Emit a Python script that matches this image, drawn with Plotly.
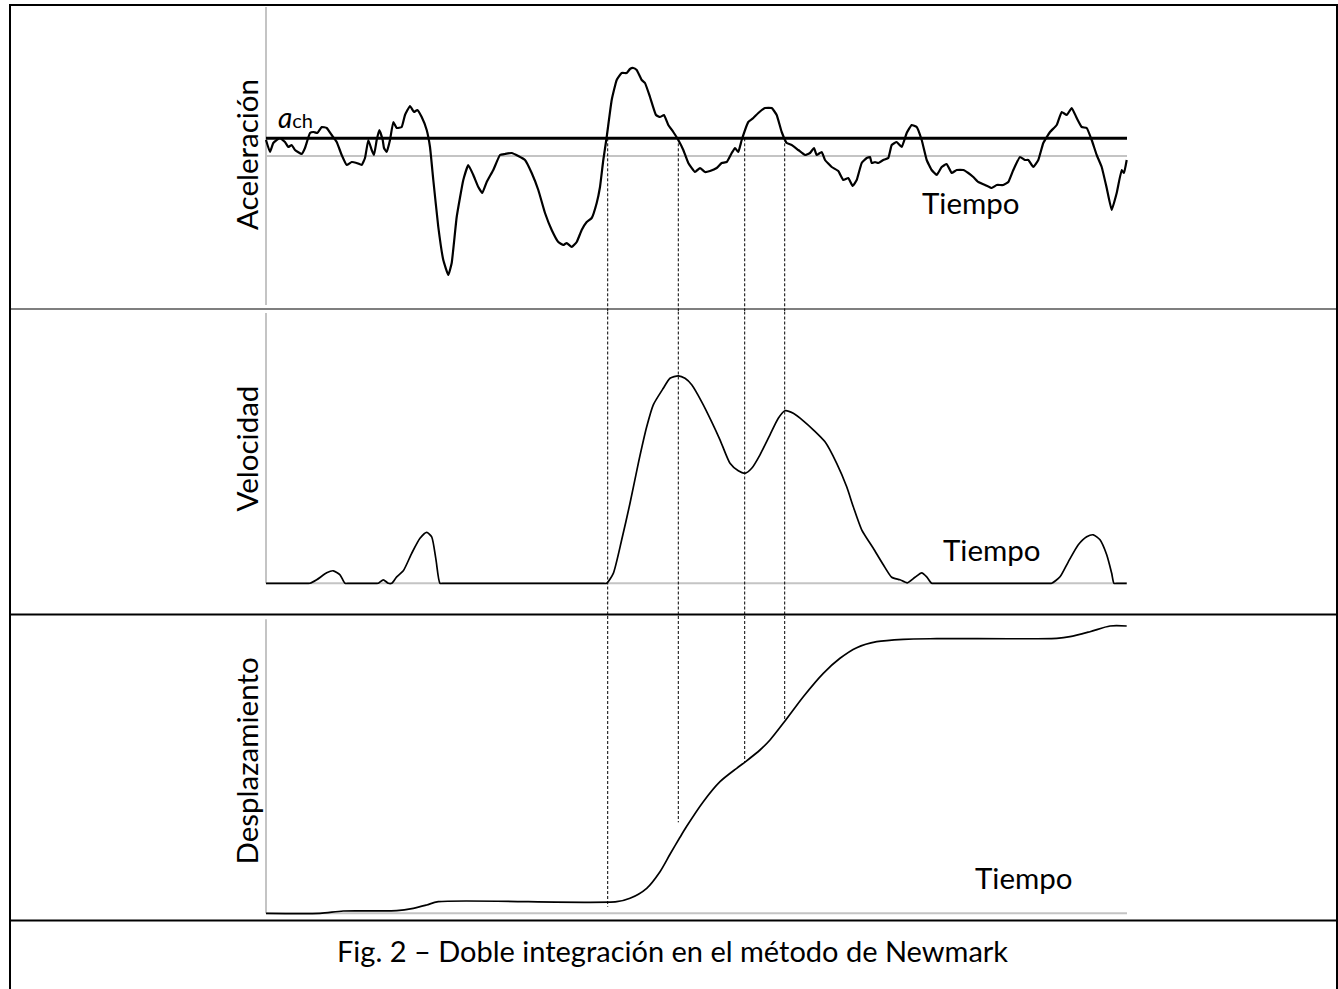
import plotly.graph_objects as go

W, H = 1338, 989

# ---------------- data (time in s) ----------------
acc_t = [0.0, 0.4, 0.73, 1.4, 1.9, 2.23, 2.57, 2.9, 3.57, 3.9, 4.4, 4.73, 5.13, 5.57, 6.07, 6.57, 7.07, 7.57,
         8.07, 8.57, 9.07, 9.57, 9.9, 10.23, 10.57, 10.8, 11.07, 11.33, 11.67, 11.8, 12.07, 12.4, 12.73, 13.07,
         13.57, 13.9, 14.4, 14.8, 15.13, 15.57, 16.07, 16.4, 16.73, 17.23, 17.73, 18.23, 18.57, 19.07, 19.73,
         20.23, 20.73, 21.23, 21.63, 22.07, 22.73, 23.4, 23.9, 24.57, 25.23, 25.9, 26.57, 27.23, 27.9, 28.57,
         29.23, 29.73, 30.07, 30.57, 31.07, 31.57, 32.07, 32.57, 33.07, 33.4, 33.73, 34.07, 34.57, 35.07, 35.57,
         36.07, 36.4, 36.73, 37.07, 37.57, 37.9, 38.4, 39.0, 39.4, 39.8, 40.23, 40.73, 41.23, 41.73, 42.23, 42.9,
         43.4, 43.9, 44.4, 45.07, 45.57, 46.07, 46.57, 46.9, 47.23, 47.57, 48.23, 48.73, 49.23, 49.9, 50.57,
         51.07, 51.57, 52.07, 52.57, 53.23, 53.9, 54.4, 54.8, 55.07, 55.57, 55.9, 56.57, 57.23, 57.73, 58.23,
         58.67, 59.07, 59.57, 60.07, 60.4, 60.57, 60.9, 61.23, 61.73, 62.23, 62.57, 63.07, 63.57, 64.07, 64.57,
         65.07, 65.57, 66.07, 66.57, 67.07, 67.57, 68.07, 68.57, 69.07, 69.73, 70.23, 70.73, 71.23, 71.9, 72.57,
         73.07, 73.73, 74.23, 74.73, 75.4, 75.9, 76.23, 76.73, 77.23, 77.73, 78.4, 79.07, 79.57, 80.07, 80.57,
         81.07, 81.57, 82.07, 82.57, 83.07, 83.57, 84.07, 84.57, 85.07, 85.57, 85.8, 86.07]
acc_g = [0.16, 0.04, 0.13, 0.18, 0.14, 0.09, 0.11, 0.06, 0.02, 0.08, 0.23, 0.24, 0.23, 0.29, 0.28, 0.21, 0.14, 0.01,
         -0.09, -0.06, -0.07, -0.09, -0.02, 0.16, 0.06, 0.01, 0.16, 0.26, 0.16, 0.08, 0.04, 0.16, 0.34, 0.28,
         0.29, 0.41, 0.50, 0.44, 0.46, 0.39, 0.26, 0.09, -0.24, -0.71, -1.04, -1.19, -1.07, -0.61, -0.24,
         -0.09, -0.19, -0.31, -0.37, -0.26, -0.14, 0.01, 0.02, 0.03, 0.0, -0.04, -0.17, -0.34, -0.57, -0.74,
         -0.86, -0.89, -0.87, -0.91, -0.86, -0.74, -0.66, -0.62, -0.47, -0.31, -0.04, 0.19, 0.56, 0.76, 0.83,
         0.83, 0.87, 0.88, 0.86, 0.76, 0.73, 0.59, 0.41, 0.39, 0.41, 0.31, 0.24, 0.16, 0.06, -0.07, -0.16,
         -0.12, -0.16, -0.15, -0.12, -0.07, -0.06, 0.03, 0.08, 0.04, 0.16, 0.34, 0.38, 0.43, 0.48, 0.48,
         0.41, 0.24, 0.13, 0.11, 0.06, 0.01, 0.03, 0.08, 0.01, 0.04, -0.04, -0.11, -0.15, -0.24, -0.22,
         -0.30, -0.24, -0.07, -0.02, -0.01, -0.07, -0.06, -0.07, -0.04, -0.02, 0.11, 0.14, 0.09, 0.23, 0.31,
         0.29, 0.16, -0.04, -0.14, -0.19, -0.11, -0.08, -0.17, -0.14, -0.14, -0.17, -0.21, -0.26, -0.29, -0.32,
         -0.29, -0.29, -0.26, -0.14, -0.01, -0.04, -0.04, -0.11, -0.04, 0.13, 0.24, 0.31, 0.44, 0.41, 0.48,
         0.38, 0.29, 0.28, 0.16, 0.01, -0.11, -0.32, -0.54, -0.37, -0.14, -0.17, -0.04]
a_ch = 0.177

vel_t = [0.0, 3.9, 4.4, 5.07, 6.07, 6.73, 7.4, 7.9, 8.3, 10.8, 11.23, 11.73, 12.23, 12.57, 13.07, 13.73, 14.57,
         15.4, 16.07, 16.57, 17.0, 17.4, 17.8, 33.6, 34.07, 34.73, 35.57, 36.4, 37.23, 38.07, 38.73, 39.73,
         40.4, 41.23, 41.9, 42.57, 43.57, 44.57, 45.4, 46.4, 47.23, 47.9, 48.57, 49.4, 50.4, 51.23, 51.9,
         52.73, 53.73, 54.73, 55.9, 57.07, 58.07, 58.73, 59.57, 60.73, 61.73, 62.57, 63.4, 64.13, 64.9,
         65.57, 66.07, 66.57, 67.0, 78.1, 78.57, 79.4, 80.23, 81.23, 82.07, 82.73, 83.4, 84.07, 84.57, 84.8,
         85.2, 86.07]
vel_v = [0.0, 0.0, 0.0, 0.7, 2.1, 2.5, 1.7, 0.0, 0.0, 0.0, 0.0, 0.7, 0.0, 0.0, 1.3, 2.5, 6.0,
         9.0, 10.2, 9.3, 4.7, 0.0, 0.0, 0.0, 0.0, 2.0, 8.7, 16.0, 24.0, 31.3, 35.7, 39.0,
         41.0, 41.5, 41.0, 39.7, 36.3, 32.3, 28.7, 24.0, 22.5, 22.0, 23.0, 25.7, 29.7, 33.0, 34.5,
         34.0, 32.5, 30.7, 28.3, 24.0, 19.3, 15.3, 10.7, 7.0, 3.7, 1.2, 0.7, 0.1, 1.2,
         2.1, 1.3, 0.0, 0.0, 0.0, 0.0, 1.3, 4.3, 7.7, 9.3, 9.7, 8.7, 5.7, 2.0, 0.0,
         0.0, 0.0]

dis_t = [0.0, 5.4, 7.73, 13.07, 14.73, 16.07, 17.23, 35.07, 36.4, 38.07, 39.4, 40.4, 41.4, 42.07, 43.73,
         45.4, 47.07, 47.87, 49.4, 50.4, 51.9, 53.73, 55.73, 57.4, 59.07, 61.07, 63.73, 67.07, 79.07, 80.4,
         82.4, 84.4, 86.07]
dis_d = [0.0, 0.0, 0.23, 0.26, 0.5, 0.83, 1.16, 1.16, 1.5, 2.5, 4.16, 5.9, 7.6, 8.7, 11.16,
         13.16, 14.5, 15.1, 16.33, 17.33, 19.23, 21.66, 24.0, 25.5, 26.56, 27.16, 27.4, 27.46, 27.5, 27.66,
         28.16, 28.73, 28.73]

# crossing instants (acceleration crosses a_ch) and where dashed guides end on displacement
cross_t = [34.17, 41.23, 47.87, 51.87]
cross_d_end = [0.66, 9.1, 15.1, 19.3]

t_max = 86.1
acc_axis = 1.49
vel_axis = 54.06
dis_axis = 29.4

labels_y = ["Aceleración", "Velocidad", "Desplazamiento"]
label_x = "Tiempo"
caption = "Fig. 2 – Doble integración en el método de Newmark"

# ---------------- layout helpers ----------------
def px(x):
    return x / W

def py(y):
    return 1 - y / H

FONT = "Lato"
X_RANGE = [-1.0, 87.1]
X_DOM = [px(256), px(1137)]
R1 = [-1.555, 1.55]
R2 = [-6.54, 54.36]
R3 = [-1.67, 29.73]
D1 = [py(311.5), py(1)]
D2 = [py(616), py(311.5)]
D3 = [py(930), py(616)]

fig = go.Figure()

fig.add_trace(go.Scatter(x=acc_t, y=acc_g, mode="lines", xaxis="x", yaxis="y",
                         line=dict(color="black", width=2.2, shape="spline", smoothing=0.35),
                         showlegend=False, hoverinfo="skip"))
fig.add_trace(go.Scatter(x=vel_t, y=vel_v, mode="lines", xaxis="x2", yaxis="y2",
                         line=dict(color="black", width=1.7, shape="spline", smoothing=0.6),
                         showlegend=False, hoverinfo="skip"))
fig.add_trace(go.Scatter(x=dis_t, y=dis_d, mode="lines", xaxis="x3", yaxis="y3",
                         line=dict(color="black", width=1.7, shape="spline", smoothing=0.8),
                         showlegend=False, hoverinfo="skip"))

shapes = []
GRAY = "#c4c4c4"
# gray axes
for xr, yr, top in [("x", "y", acc_axis), ("x2", "y2", vel_axis), ("x3", "y3", dis_axis)]:
    bottom = -acc_axis if yr == "y" else 0
    shapes.append(dict(type="line", xref=xr, yref=yr, x0=0, x1=0, y0=bottom, y1=top,
                       line=dict(color=GRAY, width=2), layer="below"))
    shapes.append(dict(type="line", xref=xr, yref=yr, x0=0, x1=t_max, y0=0, y1=0,
                       line=dict(color=GRAY, width=2), layer="below"))
# threshold line
shapes.append(dict(type="line", xref="x", yref="y", x0=0, x1=t_max, y0=a_ch, y1=a_ch,
                   line=dict(color="black", width=3)))
# dashed guides
DASH = "3px,2px"
for tc, de in zip(cross_t, cross_d_end):
    shapes.append(dict(type="line", xref="x", yref="y", x0=tc, x1=tc, y0=a_ch, y1=R1[0],
                       line=dict(color="black", width=1, dash=DASH)))
    shapes.append(dict(type="line", xref="x2", yref="y2", x0=tc, x1=tc, y0=R2[1], y1=R2[0],
                       line=dict(color="black", width=1, dash=DASH)))
    shapes.append(dict(type="line", xref="x3", yref="y3", x0=tc, x1=tc, y0=R3[1], y1=de,
                       line=dict(color="black", width=1, dash=DASH)))
# frame / table borders
for y, w in [(5, 2), (309, 1.2), (614.5, 2), (920.5, 2.2)]:
    shapes.append(dict(type="line", xref="paper", yref="paper", x0=px(10), x1=px(1337.5),
                       y0=py(y), y1=py(y), line=dict(color="black", width=w)))
for x in [10, 1337]:
    shapes.append(dict(type="line", xref="paper", yref="paper", x0=px(x), x1=px(x),
                       y0=py(4), y1=py(989), line=dict(color="black", width=2)))

ann = []
TXT = dict(family=FONT, size=29.5, color="black")
ann.append(dict(xref="x", yref="y", x=70.5, y=-0.47, text=label_x, showarrow=False, font=TXT))
ann.append(dict(xref="x2", yref="y2", x=72.6, y=6.8, text=label_x, showarrow=False, font=TXT))
ann.append(dict(xref="x3", yref="y3", x=75.8, y=3.6, text=label_x, showarrow=False, font=TXT))
for lab, yc in zip(labels_y, [155, 448.5, 761.5]):
    ann.append(dict(xref="paper", yref="paper", x=px(246), y=py(yc), text=lab, textangle=-90,
                    showarrow=False, font=TXT, xanchor="center", yanchor="middle"))
ann.append(dict(xref="x", yref="y", x=1.0, y=0.39, xanchor="left", yanchor="middle",
                text="<i>a</i><span style='font-size:20px'>ch</span>", showarrow=False,
                font=dict(family=FONT, size=28, color="black")))
ann.append(dict(xref="paper", yref="paper", x=px(672), y=py(950), text=caption, showarrow=False,
                font=dict(family=FONT, size=29, color="black"), xanchor="center", yanchor="middle"))

ax_common = dict(visible=False, showgrid=False, zeroline=False, fixedrange=True)
fig.update_layout(
    width=W, height=H, margin=dict(l=0, r=0, t=0, b=0),
    paper_bgcolor="white", plot_bgcolor="rgba(0,0,0,0)",
    shapes=shapes, annotations=ann,
    xaxis=dict(domain=X_DOM, range=X_RANGE, anchor="y", **ax_common),
    yaxis=dict(domain=D1, range=R1, anchor="x", **ax_common),
    xaxis2=dict(domain=X_DOM, range=X_RANGE, anchor="y2", **ax_common),
    yaxis2=dict(domain=D2, range=R2, anchor="x2", **ax_common),
    xaxis3=dict(domain=X_DOM, range=X_RANGE, anchor="y3", **ax_common),
    yaxis3=dict(domain=D3, range=R3, anchor="x3", **ax_common),
)

fig.write_html("out.html", config={"displayModeBar": False})
